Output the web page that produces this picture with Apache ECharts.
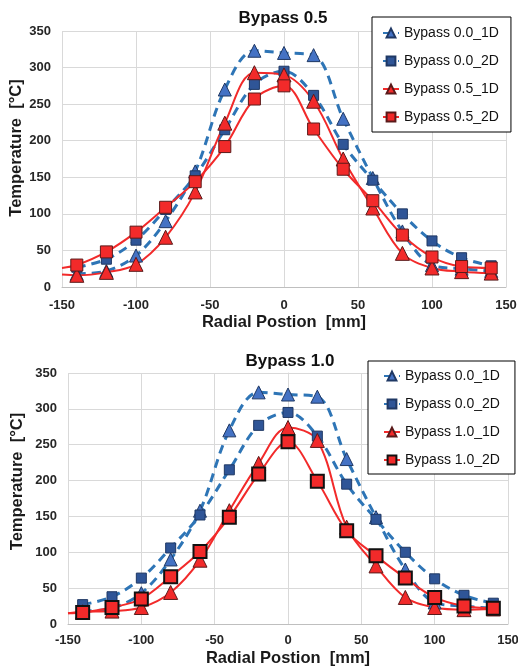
<!DOCTYPE html>
<html><head><meta charset="utf-8">
<script src="https://cdn.jsdelivr.net/npm/echarts@6/dist/echarts.min.js"></script>
<style>html,body{margin:0;padding:0;background:#fff}#c{width:518px;height:669px}</style>
</head><body><div id="c"></div>
<script>
// ---- data ----
const xPos = [-140,-120,-100,-80,-60,-40,-20,0,20,40,60,80,100,120,140];
const xTicks = [-150,-100,-50,0,50,100,150];
const yTicks = [0,50,100,150,200,250,300,350];
const titles = ['Bypass 0.5','Bypass 1.0'];
const b00_1D = [18,22,43,90,158,270,323,320,317,230,149,76,30,25,22];
const b00_2D = [27,38,64,106,152,215,277,295,262,195,146,100,63,40,29];
const b05_1D = [16,20,31,68,130,224,293,290,254,175,108,46,26,21,19];
const b05_2D = [30,48,75,109,144,192,257,275,216,161,118,71,41,28,26];
const b10_1D = [17,18,23,44,89,158,224,274,256,135,81,37,23,20,21];
const b10_2D = [16,23,35,66,101,149,209,254,199,130,95,64,37,25,22];
// red curves continue to the left plot edge
const edgeX = -150;
const b05_1D_edge = 17, b05_2D_edge = 26, b10_1D_edge = 15, b10_2D_edge = 15;

function pts(vals){ return xPos.map((x,i)=>[x,vals[i]]); }
function ptsEdge(vals, e){ return [{value:[edgeX,e],symbol:'none'}].concat(pts(vals)); }

const BLUE_LINE = '#2e75b6';
const RED = '#f22a2a';
const gridColors = ['#d9d9d9','#d9d9d9','#d9d9d9','#a6a6a6','#d9d9d9','#d9d9d9','#d9d9d9'];
const labelStyle = {fontFamily:'Liberation Sans, Arial', fontWeight:'bold', fontSize:13, color:'#262626'};
const nameStyle = {fontFamily:'Liberation Sans, Arial', fontWeight:'bold', fontSize:16.5, color:'#1a1a1a'};

function xAxis(gi, margin, gap){
  return {type:'value', gridIndex:gi, min:xTicks[0], max:xTicks[xTicks.length-1], interval:50,
    name:'Radial Postion  [mm]', nameLocation:'middle', nameGap:gap, nameMoveOverlap:false, nameTextStyle:nameStyle,
    axisLine:{show:true,onZero:false,lineStyle:{color:'#bfbfbf',width:1}}, axisTick:{show:false},
    axisLabel:Object.assign({margin:margin}, labelStyle),
    splitLine:{show:true,lineStyle:{color:gridColors,width:1}}};
}
function yAxis(gi, gap, shift){
  return {type:'value', gridIndex:gi, min:yTicks[0], max:yTicks[yTicks.length-1], interval:50,
    name:'Temperature  [\u00b0C]', nameLocation:'middle', nameGap:gap, nameMoveOverlap:false,
    nameTextStyle:Object.assign({padding:[0,0,0,shift]}, nameStyle),
    axisLine:{show:true,lineStyle:{color:'#d9d9d9'}}, axisTick:{show:false},
    axisLabel:Object.assign({margin:11}, labelStyle),
    splitLine:{show:true,lineStyle:{color:'#d9d9d9',width:1}}};
}
function blueSeries(name, vals, sym, gi){
  return {name:name, type:'line', xAxisIndex:gi, yAxisIndex:gi, data:pts(vals), smooth:0.35,
    symbol:sym, symbolSize: sym==='triangle'?13:10,
    lineStyle:{color:BLUE_LINE,width:3,type:[9,6]},
    itemStyle:{color: sym==='triangle'?'#4472c4':'#2f5597', borderColor:'#1f3864', borderWidth:1}};
}
function redSeries(name, vals, e, sym, gi, bw){
  return {name:name, type:'line', xAxisIndex:gi, yAxisIndex:gi, data:ptsEdge(vals,e), smooth:0.35,
    symbol:sym, symbolSize: sym==='triangle'?14:(bw>1?13:12), clip:true,
    lineStyle:{color:RED,width:2},
    itemStyle:{color:RED, borderColor: bw>1?'#111':'#5a1a1a', borderWidth:bw}};
}
function legend(names, left, top, pad){
  return {data:names, orient:'vertical', left:left, top:top, padding:pad, itemGap:14,
    itemWidth:16, itemHeight:11, borderColor:'#000', borderWidth:1, backgroundColor:'#fff',
    textStyle:{fontFamily:'Liberation Sans, Arial', fontSize:14, color:'#111'}};
}

const chart = echarts.init(document.getElementById('c'), null, {renderer:'canvas'});
chart.setOption({
  animation:false,
  backgroundColor:'#fff',
  title:[
    {text:titles[0], left:278, top:5, textAlign:'center', textStyle:{fontFamily:'Liberation Sans, Arial',fontWeight:'bold',fontSize:17,color:'#111'}},
    {text:titles[1], left:285, top:348, textAlign:'center', textStyle:{fontFamily:'Liberation Sans, Arial',fontWeight:'bold',fontSize:17,color:'#111'}}
  ],
  grid:[
    {left:62, right:12, top:31, height:256, containLabel:false, outerBoundsMode:'none'},
    {left:68, right:10, top:373, height:251, containLabel:false, outerBoundsMode:'none'}
  ],
  xAxis:[xAxis(0,12,27), xAxis(1,10,26)],
  yAxis:[yAxis(0,37,22), yAxis(1,42,34)],
  legend:[
    legend(['Bypass 0.0_1D','Bypass 0.0_2D','Bypass 0.5_1D','Bypass 0.5_2D'], 372, 17, [9,12,8,10]),
    legend(['Bypass 0.0_1D','Bypass 0.0_2D','Bypass 1.0_1D','Bypass 1.0_2D'], 368, 361, [8,15,7,15])
  ],
  series:[
    blueSeries('Bypass 0.0_1D', b00_1D, 'triangle', 0),
    blueSeries('Bypass 0.0_2D', b00_2D, 'rect', 0),
    redSeries('Bypass 0.5_1D', b05_1D, b05_1D_edge, 'triangle', 0, 1),
    redSeries('Bypass 0.5_2D', b05_2D, b05_2D_edge, 'rect', 0, 1),
    blueSeries('Bypass 0.0_1D', b00_1D, 'triangle', 1),
    blueSeries('Bypass 0.0_2D', b00_2D, 'rect', 1),
    redSeries('Bypass 1.0_1D', b10_1D, b10_1D_edge, 'triangle', 1, 1),
    redSeries('Bypass 1.0_2D', b10_2D, b10_2D_edge, 'rect', 1, 2)
  ]
});
</script></body></html>
